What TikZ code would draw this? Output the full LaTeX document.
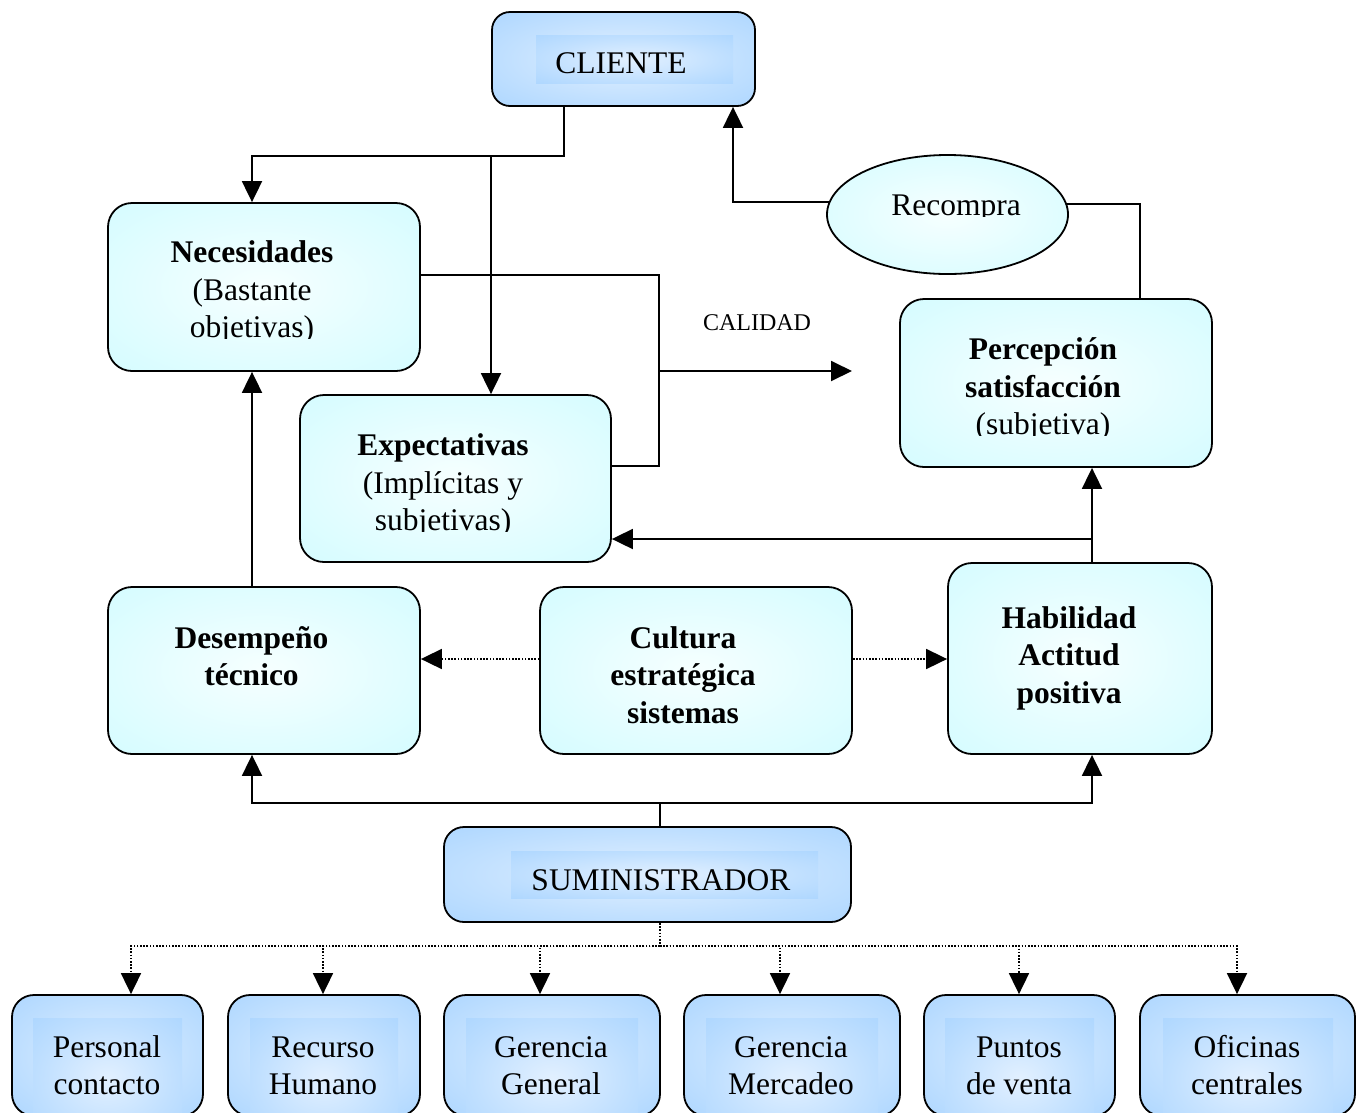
\documentclass[tikz,border=0pt]{standalone}
\usepackage{fontspec}
\setmainfont{Liberation Serif}
\usetikzlibrary{arrows.meta,shapes.geometric}

\definecolor{cyanedge}{RGB}{204,251,255}
\definecolor{cyanmid}{RGB}{246,255,255}
\definecolor{blueedge}{RGB}{160,208,255}
\definecolor{bluemid}{RGB}{226,240,255}

\pgfdeclareradialshading{cyanglow}{\pgfpoint{0bp}{0bp}}{%
  color(0bp)=(cyanmid); color(20bp)=(cyanmid!55!cyanedge);
  color(45bp)=(cyanedge); color(100bp)=(cyanedge)}
\pgfdeclareradialshading{blueglow}{\pgfpoint{0bp}{0bp}}{%
  color(0bp)=(bluemid); color(22bp)=(bluemid!50!blueedge);
  color(46bp)=(blueedge); color(100bp)=(blueedge)}

\tikzset{
  cbox/.style={draw, line width=1.8, rounded corners=24, shade, shading=cyanglow, inner sep=0},
  bbox/.style={draw, line width=1.8, rounded corners=22, shade, shading=blueglow, inner sep=0},
  cell/.style={shade, shading=blueglow},
  txt/.style={font=\fontsize{31.5}{37.5}\selectfont, align=center, anchor=base, inner sep=0},
  btxt/.style={txt, font=\fontsize{31.5}{37.5}\selectfont\bfseries},
  link/.style={line width=1.9},
  tip/.style={-{Triangle[length=21pt,width=20pt]}},
  arr/.style={link, tip},
  dot/.style={line width=1.8, dash pattern=on 1.6 off 1.6},
  darr/.style={dot, tip},
}

\begin{document}
\begin{tikzpicture}[x=1pt, y=-1pt]
\useasboundingbox (0,0) rectangle (1363,1112);
\clip (0,0) rectangle (1363,1112);

% ---------- boxes ----------
\node[bbox, rounded corners=18, minimum width=263, minimum height=94] (cliente) at (623.5,59) {};
\node[cbox, minimum width=312, minimum height=168] (nec) at (264,287) {};
\node[cbox, minimum width=311, minimum height=167] (expe) at (455.5,478.5) {};
\node[cbox, minimum width=312, minimum height=168] (perc) at (1056,383) {};
\node[draw, line width=1.8, ellipse, shade, shading=cyanglow, inner sep=0,
      minimum width=241, minimum height=119] (recompra) at (947.5,214.5) {};
\node[cbox, minimum width=312, minimum height=167] (desem) at (264,670.5) {};
\node[cbox, minimum width=312, minimum height=167] (cultura) at (696,670.5) {};
\node[cbox, minimum width=264, minimum height=191] (habil) at (1080,658.5) {};
\node[bbox, rounded corners=20, minimum width=407, minimum height=95] (sumin) at (647.5,874.5) {};

\node[bbox, minimum width=191, minimum height=121] (pc) at (107.5,1055.5) {};
\node[bbox, minimum width=192, minimum height=121] (rh) at (324,1055.5) {};
\node[bbox, minimum width=216, minimum height=121] (gg) at (552,1055.5) {};
\node[bbox, minimum width=216, minimum height=121] (gm) at (792,1055.5) {};
\node[bbox, minimum width=191, minimum height=121] (pv) at (1019.5,1055.5) {};
\node[bbox, minimum width=215, minimum height=121] (oc) at (1247.5,1055.5) {};

% inner text panels of the blue boxes
\path[cell] (536,35) rectangle (733,83);
\path[cell] (511,851) rectangle (818,898);
\path[cell] (33,1018) rectangle (182,1140);
\path[cell] (250,1018) rectangle (398,1140);
\path[cell] (466,1018) rectangle (638,1140);
\path[cell] (706,1018) rectangle (878,1140);
\path[cell] (945,1018) rectangle (1094,1140);
\path[cell] (1163,1018) rectangle (1333,1140);

% ---------- texts (anchored at the baseline of the last line) ----------
\node[txt] (tcliente) at (621,73) {CLIENTE};
\begin{scope}
  \clip (110,205) rectangle (418,338.5);
  \node[txt] (tnec) at (252,337.5) {\textbf{Necesidades}\\(Bastante\\objetivas)};
\end{scope}
\begin{scope}
  \clip (302,397) rectangle (609,531.5);
  \node[txt] (texpe) at (443,530.5) {\textbf{Expectativas}\\(Implícitas y\\subjetivas)};
\end{scope}
\begin{scope}
  \clip (902,301) rectangle (1210,435.5);
  \node[txt] (tperc) at (1043,434.5) {\textbf{Percepción}\\\textbf{satisfacción}\\(subjetiva)};
\end{scope}
\begin{scope}
  \clip (830,160) rectangle (1066,216.5);
  \node[txt] (trecompra) at (956,215) {Recompra};
\end{scope}
\node[btxt] (tdesem) at (251.5,685.5) {Desempeño\\técnico};
\node[btxt] (tcultura) at (683,723) {Cultura\\estratégica\\sistemas};
\node[btxt] (thabil) at (1069,703) {Habilidad\\Actitud\\positiva};
\node[txt] (tsumin) at (661,890) {SUMINISTRADOR};
\node[txt, font=\fontsize{24}{28}\selectfont] (tcalidad) at (757,330) {CALIDAD};

\node[txt] (tpc) at (107,1094.5) {Personal\\contacto};
\node[txt] (trh) at (323,1094.5) {Recurso\\Humano};
\node[txt] (tgg) at (551,1094.5) {Gerencia\\General};
\node[txt] (tgm) at (791,1094.5) {Gerencia\\Mercadeo};
\node[txt] (tpv) at (1019,1094.5) {Puntos\\de venta};
\node[txt] (toc) at (1247,1094.5) {Oficinas\\centrales};

% ---------- connectors ----------
\coordinate (j1) at (491,155);
\coordinate (j2) at (659,371);
\coordinate (qual) at (852,371);
\coordinate (j3) at (1092,539);
\coordinate (j4) at (660,803);
\coordinate (j5) at (660,946);

% client splits into needs and expectations
\draw[arr] ([xshift=-59.5]cliente.south) -- ++(0,49) -| ([xshift=-12]nec.north);
\draw[arr] (j1) -- (j1 |- expe.north);

% repurchase loop back to the client
\draw[link] ([xshift=84]perc.north) |- (recompra.5.6);
\draw[arr] (recompra.174.4) -| ([xshift=109.5]cliente.south);

% needs and expectations feed quality
\draw[link] ([yshift=12]nec.east) -| (j2) |- ([yshift=12.5]expe.east);
\draw[arr] (j2) -- (qual);

% performance and skills
\draw[arr] ([xshift=-12]desem.north) -- ([xshift=-12]nec.south);
\draw[arr] ([xshift=12]habil.north) -- ([xshift=36]perc.south);
\draw[arr] (j3) -- (j3 -| expe.east);

% culture drives both sides
\draw[darr] ([yshift=11.5]cultura.west) -- ([yshift=11.5]cultura.west -| desem.east);
\draw[darr] ([yshift=11.5]cultura.east) -- ([yshift=11.5]cultura.east -| habil.west);

% supplier
\draw[link] ([xshift=12.5]sumin.north) -- (j4);
\draw[arr] (j4) -| ([xshift=-12]desem.south);
\draw[arr] (j4) -| ([xshift=12]habil.south);

% supplier areas
\draw[dot] ([xshift=12.5]sumin.south) -- (j5);
\draw[darr] (j5) -| ([xshift=23.5]pc.north);
\draw[darr] (j5) -| ([xshift=-1]rh.north);
\draw[darr] (j5) -| ([xshift=-12]gg.north);
\draw[darr] (j5) -| ([xshift=-12]gm.north);
\draw[darr] (j5) -| ([xshift=-0.5]pv.north);
\draw[darr] (j5) -| ([xshift=-10.5]oc.north);
\end{tikzpicture}
\end{document}
